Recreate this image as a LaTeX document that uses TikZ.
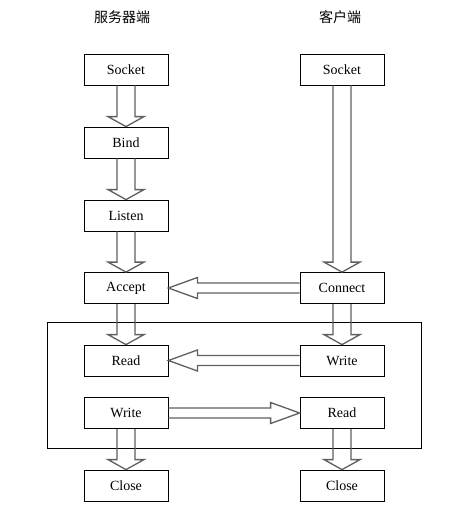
\documentclass[tikz,border=0pt]{standalone}
\usepackage{fontspec}
\setmainfont{Liberation Serif}
\newfontfamily\cjk{Noto Sans CJK SC}
\usetikzlibrary{calc}
\tikzset{
  box/.style={draw=black, line width=0.8pt, minimum width=84pt, minimum height=31pt, inner sep=0pt, font=\fontsize{14pt}{16pt}\selectfont},
  title/.style={font=\cjk\fontsize{14pt}{16pt}\selectfont},
  blockarrow/.style={draw={rgb,255:red,95;green,95;blue,95}, line width=1.3pt, line join=miter},
  frame/.style={draw=black, line width=0.8pt}
}
% #1 from, #2 to, #3 shaft half width, #4 head half width, #5 head length
\newcommand\blockarr[5]{%
  \coordinate (hb) at ($(#2)!#5!(#1)$);
  \draw[blockarrow] ($(#1)!#3!90:(#2)$) -- ($(hb)!#3!90:(#2)$) -- ($(hb)!#4!90:(#2)$)
    -- (#2) -- ($(hb)!#4!-90:(#2)$) -- ($(hb)!#3!-90:(#2)$) -- ($(#1)!#3!-90:(#2)$);
}
\begin{document}
\begin{tikzpicture}[x=1pt,y=-1pt]
\useasboundingbox (0,0) rectangle (452,514);
\node[title] (ts) at (122,17) {服务器端};
\node[title] (tc) at (340,17) {客户端};

\draw[frame] (47,322) rectangle (421,448);

\node[box] (s1) at (126,69.5) {Socket};
\node[box] (s2) at (126,142.5) {Bind};
\node[box] (s3) at (126,215.5) {Listen};
\node[box] (s4) at (126,288) {Accept};
\node[box] (s5) at (126,360.5) {Read};
\node[box] (s6) at (126,413) {Write};
\node[box] (s7) at (126,485.5) {Close};

\node[box] (c1) at (342,69.5) {Socket};
\node[box] (c4) at (342,288) {Connect};
\node[box] (c5) at (342,360.5) {Write};
\node[box] (c6) at (342,413) {Read};
\node[box] (c7) at (342,485.5) {Close};

\blockarr{s1.south}{s2.north}{9pt}{18pt}{10pt}
\blockarr{s2.south}{s3.north}{9pt}{18pt}{10pt}
\blockarr{s3.south}{s4.north}{9pt}{18pt}{10pt}
\blockarr{s4.south}{s5.north}{9pt}{18pt}{10pt}
\blockarr{s6.south}{s7.north}{9pt}{18pt}{10pt}
\blockarr{c1.south}{c4.north}{9pt}{18pt}{10pt}
\blockarr{c4.south}{c5.north}{9pt}{18pt}{10pt}
\blockarr{c6.south}{c7.north}{9pt}{18pt}{10pt}

\blockarr{c4.west}{s4.east}{5pt}{10.5pt}{29pt}
\blockarr{c5.west}{s5.east}{5pt}{10.5pt}{29pt}
\blockarr{s6.east}{c6.west}{5pt}{10.5pt}{29pt}
\end{tikzpicture}
\end{document}
